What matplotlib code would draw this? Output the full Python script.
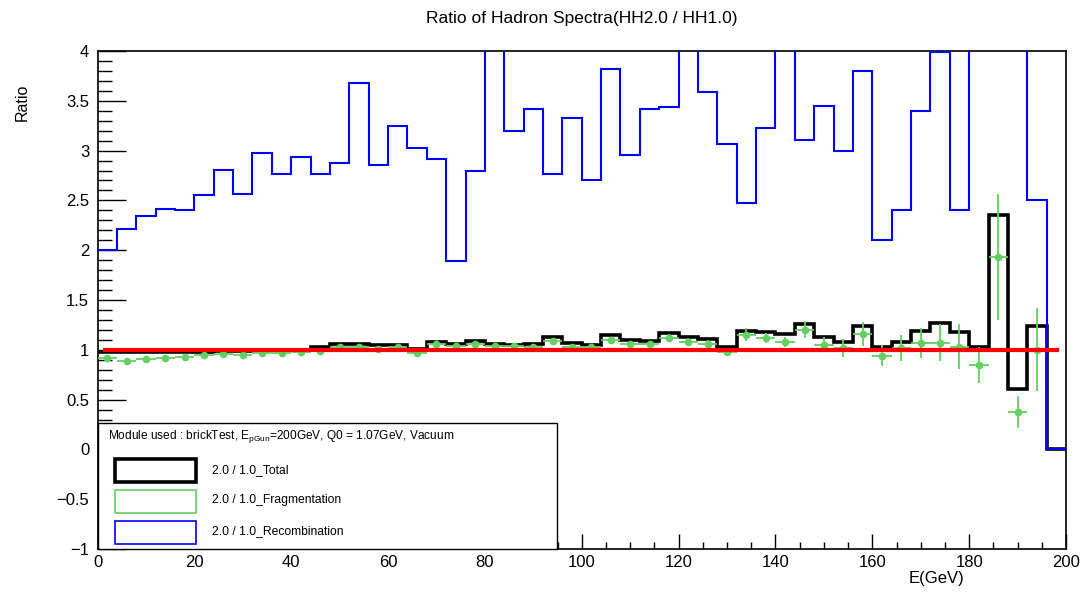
import numpy as np
import matplotlib
matplotlib.use("Agg")
import matplotlib.pyplot as plt
from matplotlib.ticker import MultipleLocator, FuncFormatter
from matplotlib.patches import Rectangle

plt.rcParams['font.family'] = ['Liberation Sans', 'DejaVu Sans']

# ---------------- data ----------------
e_min, e_max, n_bins = 0.0, 200.0, 50

recombination = [2.00, 2.21, 2.34, 2.41, 2.40, 2.55, 2.81, 2.56, 2.98, 2.77,
                 2.94, 2.77, 2.88, 3.68, 2.86, 3.25, 3.03, 2.92, 1.89, 2.80,
                 4.40, 3.20, 3.42, 2.77, 3.33, 2.70, 3.82, 2.96, 3.42, 3.44,
                 4.30, 3.59, 3.07, 2.47, 3.23, 4.20, 3.11, 3.45, 3.00, 3.80,
                 2.10, 2.40, 3.40, 3.99, 2.40, 4.50, 4.60, 4.40, 2.50, 0.00]

total = [0.975, 0.975, 0.980, 0.980, 0.980, 0.980, 0.985, 0.985, 1.000, 1.000,
         1.000, 1.025, 1.060, 1.055, 1.045, 1.045, 1.010, 1.080, 1.055, 1.085,
         1.063, 1.053, 1.063, 1.133, 1.066, 1.053, 1.146, 1.100, 1.090, 1.166,
         1.130, 1.110, 1.030, 1.193, 1.183, 1.163, 1.263, 1.133, 1.083, 1.236,
         1.026, 1.080, 1.186, 1.267, 1.183, 1.026, 2.356, 0.608, 1.236, 0.000]

fragmentation = [0.922, 0.892, 0.905, 0.919, 0.932, 0.949, 0.956, 0.952, 0.969, 0.969,
                 0.979, 0.986, 1.033, 1.026, 1.013, 1.028, 0.968, 1.058, 1.041, 1.063,
                 1.036, 1.036, 1.030, 1.093, 1.033, 1.033, 1.103, 1.056, 1.056, 1.120,
                 1.080, 1.063, 0.976, 1.153, 1.116, 1.076, 1.203, 1.053, 1.019, 1.160,
                 0.942, 1.019, 1.069, 1.073, 1.030, 0.849, 1.930, 0.374, 1.000, np.nan]

fragmentation_err = ([0.01] * 12 + [0.015] * 5 + [0.025] * 6 + [0.03] * 6 + [0.04] * 4 +
                     [0.062, 0.05, 0.05, 0.089, 0.08, 0.092, 0.117, 0.105, 0.134, 0.147,
                      0.19, 0.226, 0.184, 0.63, 0.159, 0.418, 0.0])

y_ticks = [-1, -0.5, 0, 0.5, 1, 1.5, 2, 2.5, 3, 3.5, 4]
x_ticks = [0, 20, 40, 60, 80, 100, 120, 140, 160, 180, 200]

title = "Ratio of Hadron Spectra(HH2.0 / HH1.0)"
legend_header = r"Module used : brickTest, E$_{\mathregular{pGun}}$=200GeV, Q0 = 1.07GeV, Vacuum"
legend_labels = ["2.0 / 1.0_Total", "2.0 / 1.0_Fragmentation", "2.0 / 1.0_Recombination"]

# ---------------- figure ----------------
W, H = 1083, 592
fig = plt.figure(figsize=(W / 100, H / 100), dpi=100)

def fx(px):
    return px / W

def fy(py):
    return 1 - py / H

ax = fig.add_axes([fx(97.5), fy(549), fx(1066) - fx(97.5), fy(51) - fy(549)])

edges = np.linspace(e_min, e_max, n_bins + 1)
centers = 0.5 * (edges[:-1] + edges[1:])
half_w = 0.5 * (edges[1] - edges[0])

c_black = 'black'
c_green = '#62d062'
c_blue = '#0000ff'
c_red = '#ff0000'

ax.stairs(total, edges, baseline=None, color=c_black, lw=2.6, zorder=2)
ax.errorbar(centers, fragmentation, yerr=fragmentation_err, xerr=half_w,
            fmt='o', ms=4.5, color=c_green, ecolor=c_green, elinewidth=1.3,
            capsize=0, zorder=3)
ax.stairs(recombination, edges, baseline=None, color=c_blue, lw=1.5, zorder=4)
ax.plot([1.2, 198.5], [1, 1], color=c_red, lw=3.0, zorder=5, solid_capstyle='butt')

ax.set_xlim(e_min, e_max)
ax.set_ylim(-1, 4)
ax.set_xticks(x_ticks)
ax.set_yticks(y_ticks)
ax.xaxis.set_minor_locator(MultipleLocator(5))
ax.yaxis.set_minor_locator(MultipleLocator(0.1))

def fmt(v, _):
    s = '%g' % v
    if s == '-0':
        s = '0'
    return s.replace('-', '\u2212')

ax.xaxis.set_major_formatter(FuncFormatter(fmt))
ax.yaxis.set_major_formatter(FuncFormatter(fmt))

ax.tick_params(axis='both', which='both', direction='in', top=False, right=False,
               labelsize=12, width=1.0, color='black')
ax.tick_params(axis='y', which='major', length=20, pad=6)
ax.tick_params(axis='y', which='minor', length=10)
ax.tick_params(axis='x', which='major', length=10.5, pad=4)
ax.tick_params(axis='x', which='minor', length=5)
for sp in ax.spines.values():
    sp.set_linewidth(1.2)

# texts
fig.text(fx(581.5), fy(18), title, ha='center', va='center', fontsize=12.5)
fig.text(fx(22), fy(102), "Ratio", ha='center', va='center', rotation=90, fontsize=11.5)
fig.text(fx(936), fy(578), "E(GeV)", ha='center', va='center', fontsize=12)

# legend box
fig.add_artist(Rectangle((fx(97.5), fy(549)), fx(557) - fx(97.5), fy(423) - fy(549),
                         transform=fig.transFigure, facecolor='white',
                         edgecolor='black', lw=1.0, zorder=10))
fig.text(fx(108), fy(436), legend_header, ha='left', va='center', fontsize=8.6, zorder=11)

entry_colors = [c_black, c_green, c_blue]
entry_lw = [2.6, 1.2, 1.2]
entry_tops = [459, 490, 521]
entry_h = 23
label_y = [470, 500, 531]
for col, lw, top, ly, lab in zip(entry_colors, entry_lw, entry_tops, label_y, legend_labels):
    fig.add_artist(Rectangle((fx(115), fy(top + entry_h)), fx(196) - fx(115),
                             fy(top) - fy(top + entry_h), transform=fig.transFigure,
                             facecolor='none', edgecolor=col, lw=lw, zorder=11))
    fig.text(fx(212), fy(ly), lab, ha='left', va='center', fontsize=8.7, zorder=11)

fig.savefig("out.png", dpi=100)
